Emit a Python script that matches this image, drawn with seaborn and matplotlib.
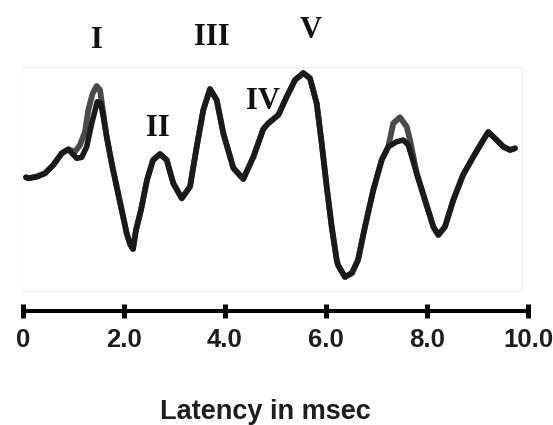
import matplotlib
matplotlib.use("Agg")
import matplotlib.pyplot as plt
import seaborn as sns
import pandas as pd
from matplotlib.patches import Rectangle

# latency (ms) / amplitude (arbitrary units)
lat_a = [0.065, 0.111, 0.277, 0.441, 0.606, 0.772, 0.902, 1.069, 1.168, 1.267, 1.366,
         1.476, 1.544, 1.595, 1.662, 1.761, 1.860, 1.959, 2.058, 2.124, 2.183, 2.242,
         2.341, 2.460, 2.579, 2.717, 2.850, 2.980, 3.147, 3.311, 3.444, 3.574, 3.707,
         3.839, 3.970, 4.168, 4.366, 4.564, 4.762, 4.860, 5.058, 5.225, 5.389, 5.553,
         5.686, 5.818, 5.917, 6.016, 6.115, 6.214, 6.240, 6.378, 6.517, 6.636, 6.774,
         6.938, 7.105, 7.235, 7.401, 7.532, 7.631, 7.797, 7.961, 8.126, 8.225, 8.357,
         8.522, 8.714, 8.918, 9.115, 9.214, 9.380, 9.511, 9.644, 9.743]
amp_a = [0.014, -0.006, 0.026, 0.094, 0.26, 0.494, 0.574, 0.394, 0.414, 0.626, 1.094,
         1.526, 1.494, 1.226, 0.826, 0.294, -0.174, -0.64, -1.106, -1.32, -1.42, -1.04,
         -0.64, -0.04, 0.36, 0.48, 0.36, -0.106, -0.406, -0.174, 0.626, 1.36, 1.78,
         1.56, 0.894, 0.2, -0.02, 0.42, 0.98, 1.094, 1.26, 1.626, 1.96, 2.10,
         1.994, 1.494, 0.694, -0.174, -0.974, -1.64, -1.74, -1.98, -1.90, -1.64, -0.974,
         -0.24, 0.36, 0.626, 0.726, 0.76, 0.66, 0.094, -0.44, -0.974, -1.14, -0.974,
         -0.44, 0.06, 0.426, 0.76, 0.92, 0.76, 0.626, 0.56, 0.594]

lat_b = [0.065, 0.111, 0.277, 0.441, 0.606, 0.772, 0.902, 1.035, 1.134, 1.233, 1.298,
         1.385, 1.464, 1.530, 1.595, 1.662, 1.761, 1.860, 1.959, 2.058, 2.124, 2.183,
         2.242, 2.341, 2.460, 2.579, 2.717, 2.850, 2.980, 3.147, 3.311, 3.444, 3.574,
         3.707, 3.839, 3.970, 4.168, 4.366, 4.564, 4.762, 4.860, 5.058, 5.225, 5.389,
         5.553, 5.686, 5.818, 5.917, 6.016, 6.115, 6.214, 6.240, 6.378, 6.517, 6.636,
         6.774, 6.938, 7.105, 7.235, 7.334, 7.467, 7.599, 7.665, 7.797, 7.961, 8.126,
         8.225, 8.357, 8.522, 8.714, 8.918, 9.115, 9.214, 9.380, 9.511, 9.644, 9.743]
amp_b = [0.014, -0.006, 0.026, 0.094, 0.26, 0.494, 0.574, 0.526, 0.66, 0.926, 1.36,
         1.694, 1.84, 1.76, 1.294, 0.826, 0.294, -0.174, -0.64, -1.106, -1.32, -1.42,
         -1.04, -0.64, -0.04, 0.36, 0.48, 0.36, -0.106, -0.406, -0.174, 0.626, 1.36,
         1.78, 1.56, 0.894, 0.2, -0.02, 0.42, 0.98, 1.094, 1.26, 1.626, 1.96,
         2.10, 1.994, 1.494, 0.694, -0.174, -0.974, -1.64, -1.74, -1.98, -1.90, -1.64,
         -0.974, -0.24, 0.36, 0.626, 1.094, 1.214, 1.026, 0.76, 0.094, -0.44, -0.974,
         -1.14, -0.974, -0.44, 0.06, 0.426, 0.76, 0.92, 0.76, 0.626, 0.56, 0.594]

# wave labels: (text, latency, amplitude of baseline)
wave_names = ["I", "II", "III", "IV", "V"]
wave_lat = [1.464, 2.678, 3.746, 4.762, 5.702]
wave_amp = [2.606, 0.846, 2.66, 1.38, 2.794]

tick_pos = [0, 2, 4, 6, 8, 10]
tick_labels = ["0", "2.0", "4.0", "6.0", "8.0", "10.0"]

sns.set_style("white")
plt.rcParams["font.family"] = ["Liberation Sans", "DejaVu Sans"]

W, H = 553, 425
fig = plt.figure(figsize=(W / 100, H / 100), dpi=100)
ax_left, ax_right = 22.7, 528.0
ax_top, ax_bot = 0.0, 310.7
ax = fig.add_axes([ax_left / W, (H - ax_bot) / H, (ax_right - ax_left) / W, (ax_bot - ax_top) / H])

# faint frame of the original recording
ax.add_patch(Rectangle((-0.01, -2.26), 9.885, 4.486, fill=False, edgecolor="#f0f0f0", lw=1))

df_a = pd.DataFrame({"latency": lat_a, "amp": amp_a})
df_b = pd.DataFrame({"latency": lat_b, "amp": amp_b})
sns.lineplot(data=df_b, x="latency", y="amp", sort=False, ax=ax, color="#4a4a4a", lw=4.2,
             solid_joinstyle="round", solid_capstyle="round")
sns.lineplot(data=df_a, x="latency", y="amp", sort=False, ax=ax, color="#1a1a1a", lw=4.0,
             solid_joinstyle="round", solid_capstyle="round")

for name, x, y in zip(wave_names, wave_lat, wave_amp):
    ax.text(x, y, name, ha="center", va="baseline", fontsize=22, fontweight="bold",
            family=["Liberation Serif", "DejaVu Serif"], color="#111111")

ax.set_xlim(0, 10)
ax.set_ylim((178 - ax_bot) / 50, (178 - ax_top) / 50)

for s in ["left", "top", "right"]:
    ax.spines[s].set_visible(False)
ax.spines["bottom"].set_linewidth(2.9)
ax.spines["bottom"].set_color("black")
ax.set_yticks([])
ax.set_xticks(tick_pos)
ax.set_xticklabels(tick_labels, fontsize=18.5, fontweight="bold", color="#1e1e1e")
ax.tick_params(axis="x", bottom=True, direction="inout", length=10, width=3.6, pad=7.5,
               color="black")
ax.set_xlabel("")
ax.set_ylabel("")

fig.text(265 / W, (H - 419) / H, "Latency in msec", ha="center", va="baseline",
         fontsize=19.5, fontweight="bold", color="#1e1e1e")

fig.savefig("out.png", dpi=100)
